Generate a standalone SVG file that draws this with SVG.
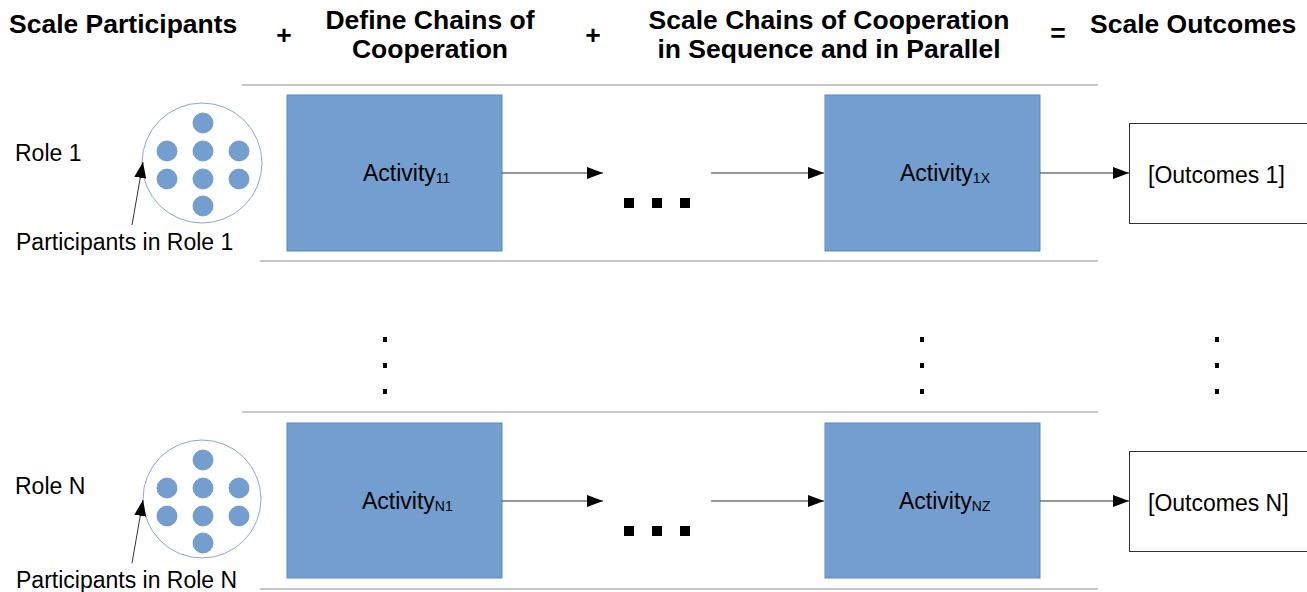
<svg xmlns="http://www.w3.org/2000/svg" width="1307" height="592" viewBox="0 0 1307 592">
  <style>
    .hdr { font-family: "Liberation Sans", Arial, sans-serif; font-weight: bold; font-size: 26.5px; fill: #000; }
    .txt { font-family: "Liberation Sans", Arial, sans-serif; font-size: 23px; fill: #000; }
    .sub { font-size: 14px; }
    .sep { stroke: #b4b4b4; stroke-width: 1.5; fill: none; }
    .act { fill: #729fcf; stroke: #5a88c2; stroke-width: 1; }
    .out { fill: #fff; stroke: #333; stroke-width: 1; }
    .pool { fill: none; stroke: #8aa7cf; stroke-width: 1; }
    .dot { fill: #729fcf; stroke: #6690c6; stroke-width: 0.8; }
    .con { stroke: #333; stroke-width: 1; fill: none; marker-end: url(#arrow); }
    .ell { fill: #000; }
  </style>
  <defs>
    <marker id="arrow" viewBox="0 0 16 12" refX="16" refY="6" markerWidth="16" markerHeight="12" markerUnits="userSpaceOnUse" orient="auto">
      <path d="M0,0 L16,6 L0,12 Z" fill="#000"/>
    </marker>
  </defs>
  <rect width="1307" height="592" fill="#fff"/>

  <!-- Column headers -->
  <g id="headers">
    <text class="hdr" x="9" y="33">Scale Participants</text>
    <text class="hdr" x="284" y="44" text-anchor="middle">+</text>
    <text class="hdr" x="430" y="29" text-anchor="middle">Define Chains of</text>
    <text class="hdr" x="430" y="58" text-anchor="middle">Cooperation</text>
    <text class="hdr" x="593" y="44" text-anchor="middle">+</text>
    <text class="hdr" x="829" y="29" text-anchor="middle">Scale Chains of Cooperation</text>
    <text class="hdr" x="829" y="58" text-anchor="middle">in Sequence and in Parallel</text>
    <text class="hdr" x="1058" y="42" text-anchor="middle">=</text>
    <text class="hdr" x="1090" y="33">Scale Outcomes</text>
  </g>

  <!-- Lane separators -->
  <g id="separators">
    <line class="sep" x1="242" y1="85" x2="1098" y2="85"/>
    <line class="sep" x1="260" y1="261" x2="1098" y2="261"/>
    <line class="sep" x1="242" y1="412" x2="1098" y2="412"/>
    <line class="sep" x1="260" y1="589" x2="1098" y2="589"/>
  </g>

  <!-- Role 1 lane -->
  <g id="role1">
    <text class="txt" x="15" y="161">Role 1</text>
    <circle class="pool" cx="202" cy="163" r="60"/>
    <circle class="dot" cx="203" cy="123" r="10"/>
    <circle class="dot" cx="167" cy="151" r="10"/>
    <circle class="dot" cx="203" cy="151" r="10"/>
    <circle class="dot" cx="239" cy="151" r="10"/>
    <circle class="dot" cx="167" cy="179" r="10"/>
    <circle class="dot" cx="203" cy="179" r="10"/>
    <circle class="dot" cx="239" cy="179" r="10"/>
    <circle class="dot" cx="203" cy="206" r="10"/>
    <text class="txt" x="16" y="250">Participants in Role 1</text>
  </g>
  <g id="activity11">
    <rect class="act" x="287" y="95" width="215" height="156"/>
    <text class="txt" x="363" y="181">Activity<tspan class="sub" dy="2">11</tspan></text>
  </g>
  <g id="ellipsis1">
    <rect class="ell" x="624" y="198" width="10" height="10"/>
    <rect class="ell" x="652" y="198" width="10" height="10"/>
    <rect class="ell" x="680" y="198" width="10" height="10"/>
  </g>
  <g id="activity1X">
    <rect class="act" x="825" y="95" width="215" height="156"/>
    <text class="txt" x="900" y="181">Activity<tspan class="sub" dy="2">1X</tspan></text>
  </g>
  <g id="outcomes1">
    <rect class="out" x="1129.5" y="123.5" width="180" height="100"/>
    <text class="txt" x="1148" y="183">[Outcomes 1]</text>
  </g>

  <!-- Vertical continuation marks -->
  <g id="vdots">
    <rect class="ell" x="383" y="337" width="4" height="5"/>
    <rect class="ell" x="383" y="363" width="4" height="5"/>
    <rect class="ell" x="383" y="389" width="4" height="5"/>
    <rect class="ell" x="920" y="337" width="4" height="5"/>
    <rect class="ell" x="920" y="363" width="4" height="5"/>
    <rect class="ell" x="920" y="389" width="4" height="5"/>
    <rect class="ell" x="1215" y="337" width="4" height="5"/>
    <rect class="ell" x="1215" y="363" width="4" height="5"/>
    <rect class="ell" x="1215" y="389" width="4" height="5"/>
  </g>

  <!-- Role N lane -->
  <g id="roleN">
    <text class="txt" x="15" y="494">Role N</text>
    <circle class="pool" cx="202" cy="499" r="59"/>
    <circle class="dot" cx="203" cy="460" r="10"/>
    <circle class="dot" cx="167" cy="488" r="10"/>
    <circle class="dot" cx="203" cy="488" r="10"/>
    <circle class="dot" cx="239" cy="488" r="10"/>
    <circle class="dot" cx="167" cy="516" r="10"/>
    <circle class="dot" cx="203" cy="516" r="10"/>
    <circle class="dot" cx="239" cy="516" r="10"/>
    <circle class="dot" cx="203" cy="543" r="10"/>
    <text class="txt" x="16" y="588">Participants in Role N</text>
  </g>
  <g id="activityN1">
    <rect class="act" x="287" y="423" width="215" height="155"/>
    <text class="txt" x="362" y="509">Activity<tspan class="sub" dy="2">N1</tspan></text>
  </g>
  <g id="ellipsisN">
    <rect class="ell" x="624" y="526" width="10" height="10"/>
    <rect class="ell" x="652" y="526" width="10" height="10"/>
    <rect class="ell" x="680" y="526" width="10" height="10"/>
  </g>
  <g id="activityNZ">
    <rect class="act" x="825" y="423" width="215" height="155"/>
    <text class="txt" x="899" y="509">Activity<tspan class="sub" dy="2">NZ</tspan></text>
  </g>
  <g id="outcomesN">
    <rect class="out" x="1129.5" y="451.5" width="180" height="100"/>
    <text class="txt" x="1148" y="511">[Outcomes N]</text>
  </g>

  <!-- Connectors -->
  <g id="connectors">
    <line class="con" x1="132" y1="225" x2="143" y2="162"/>
    <line class="con" x1="502" y1="173" x2="603" y2="173"/>
    <line class="con" x1="711" y1="173" x2="824" y2="173"/>
    <line class="con" x1="1040" y1="173" x2="1129" y2="173"/>
    <line class="con" x1="132" y1="563" x2="143" y2="500"/>
    <line class="con" x1="502" y1="501" x2="603" y2="501"/>
    <line class="con" x1="711" y1="501" x2="824" y2="501"/>
    <line class="con" x1="1040" y1="501" x2="1129" y2="501"/>
  </g>
</svg>
